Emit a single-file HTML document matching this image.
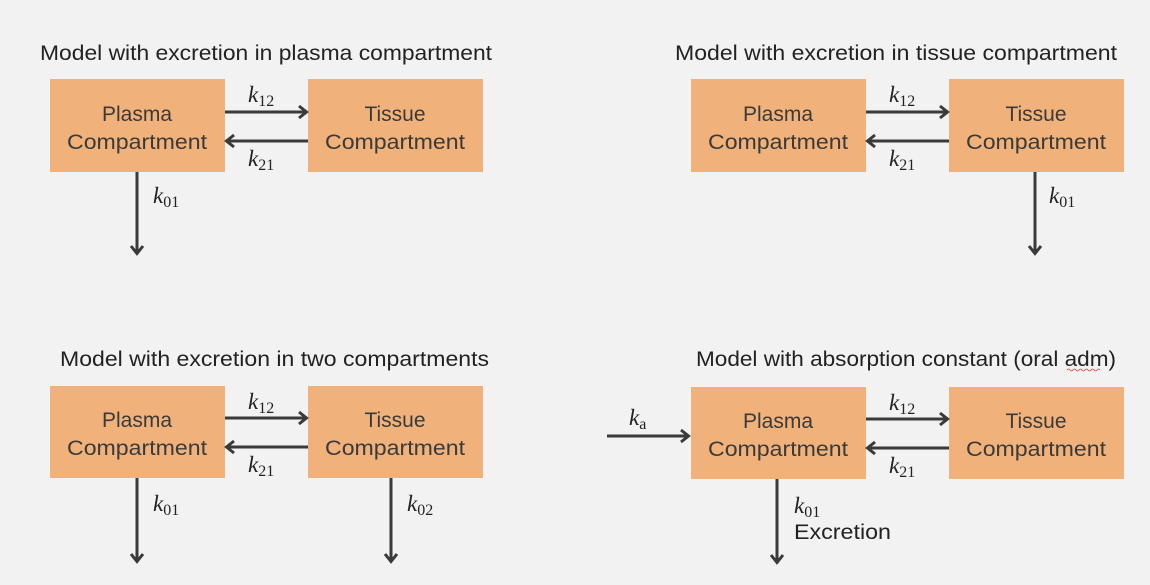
<!DOCTYPE html>
<html><head><style>
body{margin:0;background:#f2f2f2;}
svg{display:block;font-family:"Liberation Sans",sans-serif;}
.t{font-size:21px;fill:#222;}
.b{font-size:21px;fill:#3a3a3a;text-anchor:middle;}
.k{font-family:"Liberation Serif",serif;font-style:italic;font-size:23px;fill:#222;}
.s{font-family:"Liberation Serif",serif;font-style:normal;font-size:16px;}
line{stroke:#3a3a3a;stroke-width:3;}
</style></head><body>
<svg width="1150" height="585" viewBox="0 0 1150 585">
<defs><marker id="a" markerWidth="14" markerHeight="16" refX="11" refY="8" orient="auto" markerUnits="userSpaceOnUse"><path d="M3,2 L10.5,8 L3,14" fill="none" stroke="#3a3a3a" stroke-width="3"/></marker></defs>
<rect width="1150" height="585" fill="#f2f2f2"/>
<g>
<text class="t" x="40" y="60" textLength="452" lengthAdjust="spacingAndGlyphs">Model with excretion in plasma compartment</text>
<rect x="50" y="79" width="175" height="93" fill="#f0b27a"/>
<rect x="308" y="79" width="175" height="93" fill="#f0b27a"/>
<text class="b" x="137" y="121">Plasma</text><text class="b" x="137" y="149" textLength="140" lengthAdjust="spacingAndGlyphs">Compartment</text>
<text class="b" x="395" y="121">Tissue</text><text class="b" x="395" y="149" textLength="140" lengthAdjust="spacingAndGlyphs">Compartment</text>
<line x1="225" y1="112" x2="307" y2="112" marker-end="url(#a)"/>
<line x1="308" y1="141" x2="226" y2="141" marker-end="url(#a)"/>
<text class="k" x="248" y="102">k<tspan class="s" dy="4">12</tspan></text>
<text class="k" x="248" y="166">k<tspan class="s" dy="4">21</tspan></text>
<line x1="137" y1="172" x2="137" y2="254" marker-end="url(#a)"/>
<text class="k" x="153" y="203">k<tspan class="s" dy="4">01</tspan></text>
</g>
<g>
<text class="t" x="675" y="60" textLength="442" lengthAdjust="spacingAndGlyphs">Model with excretion in tissue compartment</text>
<rect x="691" y="79" width="175" height="93" fill="#f0b27a"/>
<rect x="949" y="79" width="175" height="93" fill="#f0b27a"/>
<text class="b" x="778" y="121">Plasma</text><text class="b" x="778" y="149" textLength="140" lengthAdjust="spacingAndGlyphs">Compartment</text>
<text class="b" x="1036" y="121">Tissue</text><text class="b" x="1036" y="149" textLength="140" lengthAdjust="spacingAndGlyphs">Compartment</text>
<line x1="866" y1="112" x2="948" y2="112" marker-end="url(#a)"/>
<line x1="949" y1="141" x2="867" y2="141" marker-end="url(#a)"/>
<text class="k" x="889" y="102">k<tspan class="s" dy="4">12</tspan></text>
<text class="k" x="889" y="166">k<tspan class="s" dy="4">21</tspan></text>
<line x1="1035" y1="172" x2="1035" y2="254" marker-end="url(#a)"/>
<text class="k" x="1049" y="203">k<tspan class="s" dy="4">01</tspan></text>
</g>
<g>
<text class="t" x="60" y="366" textLength="429" lengthAdjust="spacingAndGlyphs">Model with excretion in two compartments</text>
<rect x="50" y="386" width="175" height="92" fill="#f0b27a"/>
<rect x="308" y="386" width="175" height="92" fill="#f0b27a"/>
<text class="b" x="137" y="427">Plasma</text><text class="b" x="137" y="455" textLength="140" lengthAdjust="spacingAndGlyphs">Compartment</text>
<text class="b" x="395" y="427">Tissue</text><text class="b" x="395" y="455" textLength="140" lengthAdjust="spacingAndGlyphs">Compartment</text>
<line x1="225" y1="418" x2="307" y2="418" marker-end="url(#a)"/>
<line x1="308" y1="447" x2="226" y2="447" marker-end="url(#a)"/>
<text class="k" x="248" y="409">k<tspan class="s" dy="4">12</tspan></text>
<text class="k" x="248" y="472">k<tspan class="s" dy="4">21</tspan></text>
<line x1="137" y1="478" x2="137" y2="562" marker-end="url(#a)"/>
<text class="k" x="153" y="511">k<tspan class="s" dy="4">01</tspan></text>
<line x1="391" y1="478" x2="391" y2="562" marker-end="url(#a)"/>
<text class="k" x="407" y="511">k<tspan class="s" dy="4">02</tspan></text>
</g>
<g>
<text class="t" x="696" y="366" textLength="420" lengthAdjust="spacingAndGlyphs">Model with absorption constant (oral adm)</text>
<path d="M1067,370 q1.5,-2 3,0 t3,0 t3,0 t3,0 t3,0 t3,0 t3,0 t3,0 t3,0 t3,0 t3,0" fill="none" stroke="#e04040" stroke-width="0.8"/>
<rect x="691" y="387" width="175" height="92" fill="#f0b27a"/>
<rect x="949" y="387" width="175" height="92" fill="#f0b27a"/>
<text class="b" x="778" y="428">Plasma</text><text class="b" x="778" y="456" textLength="140" lengthAdjust="spacingAndGlyphs">Compartment</text>
<text class="b" x="1036" y="428">Tissue</text><text class="b" x="1036" y="456" textLength="140" lengthAdjust="spacingAndGlyphs">Compartment</text>
<line x1="607" y1="436" x2="689" y2="436" marker-end="url(#a)"/>
<text class="k" x="629" y="425">k<tspan class="s" dy="4" font-style="italic">a</tspan></text>
<line x1="866" y1="419" x2="948" y2="419" marker-end="url(#a)"/>
<line x1="949" y1="448" x2="867" y2="448" marker-end="url(#a)"/>
<text class="k" x="889" y="410">k<tspan class="s" dy="4">12</tspan></text>
<text class="k" x="889" y="473">k<tspan class="s" dy="4">21</tspan></text>
<line x1="777" y1="479" x2="777" y2="563" marker-end="url(#a)"/>
<text class="k" x="794" y="513">k<tspan class="s" dy="4">01</tspan></text>
<text class="t" x="794" y="539" textLength="97" lengthAdjust="spacingAndGlyphs">Excretion</text>
</g>
</svg>
</body></html>
